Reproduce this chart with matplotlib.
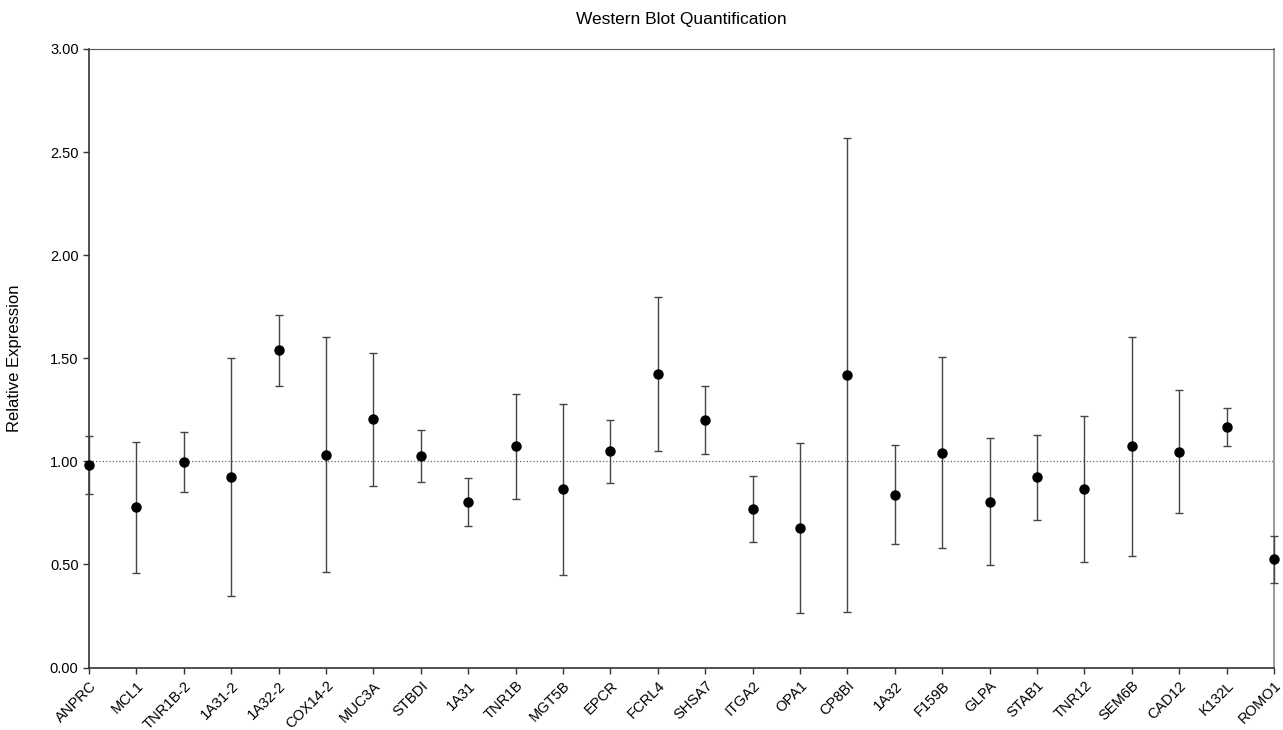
import numpy as np
import matplotlib.pyplot as plt
from matplotlib.ticker import FormatStrFormatter

plt.rcParams['font.family'] = ['Liberation Sans', 'DejaVu Sans']

# protein targets along the x axis
targets = ["ANPRC", "MCL1", "TNR1B-2", "1A31-2", "1A32-2", "COX14-2", "MUC3A",
           "STBDI", "1A31", "TNR1B", "MGT5B", "EPCR", "FCRL4", "SHSA7", "ITGA2",
           "OPA1", "CP8BI", "1A32", "F159B", "GLPA", "STAB1", "TNR12", "SEM6B",
           "CAD12", "K132L", "ROMO1"]

# mean relative expression
means = [0.983, 0.777, 0.995, 0.924, 1.538, 1.032, 1.204,
         1.027, 0.801, 1.073, 0.864, 1.048, 1.422, 1.201, 0.768,
         0.676, 1.417, 0.839, 1.042, 0.805, 0.922, 0.867, 1.073,
         1.047, 1.166, 0.525]

# symmetric error (SD)
errors = [0.140, 0.318, 0.145, 0.576, 0.172, 0.570, 0.323,
          0.125, 0.116, 0.255, 0.413, 0.151, 0.373, 0.166, 0.161,
          0.412, 1.149, 0.242, 0.463, 0.308, 0.206, 0.355, 0.532,
          0.298, 0.091, 0.113]

fig = plt.figure(figsize=(12.83, 7.30), dpi=100)
ax = fig.add_axes([0.0694, 0.0856, 0.9236, 0.8473])

x = np.arange(len(targets))

ax.axhline(1.0, color='#666666', linestyle=':', linewidth=0.9, zorder=1)

ax.errorbar(x, means, yerr=errors, fmt='o', color='black', markersize=6.5,
            ecolor='#444444', elinewidth=1.0, capsize=3.2, capthick=1.0,
            zorder=3, clip_on=False)

ax.set_xlim(0, len(targets) - 1)
ax.set_ylim(0, 3.0)
ax.set_yticks(np.arange(0, 3.01, 0.5))
ax.yaxis.set_major_formatter(FormatStrFormatter('%.2f'))

ax.set_xticks(x)
ax.set_xticklabels(targets, rotation=45, ha='right', rotation_mode='anchor')

ax.tick_params(axis='both', direction='out', length=4, width=1,
               colors='#333333', labelsize=10.5, labelcolor='black')
ax.tick_params(axis='x', pad=4)

for side in ['left', 'bottom']:
    ax.spines[side].set_color('#333333')
    ax.spines[side].set_linewidth(1.2)
ax.spines['top'].set_color('#555555')
ax.spines['right'].set_color('#888888')
ax.spines['right'].set_linewidth(1.2)

ax.set_ylabel("Relative Expression", fontsize=12)
ax.yaxis.set_label_coords(-0.0565, 0.5)
ax.set_title("Western Blot Quantification", fontsize=12.5, pad=18)

fig.savefig("out.png", dpi=100)
